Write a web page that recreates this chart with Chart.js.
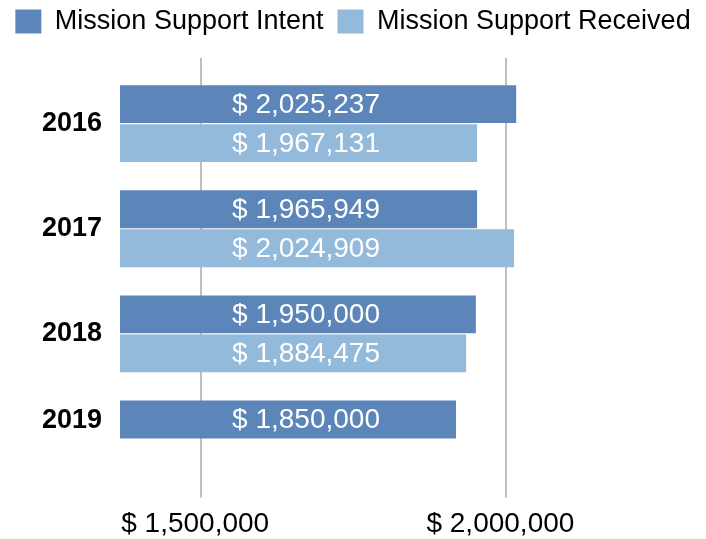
<!DOCTYPE html>
<html>
<head>
<meta charset="utf-8">
<style>
  html, body { margin: 0; padding: 0; background: #fff; }
  #chart { display: block; }
</style>
<script src="https://cdn.jsdelivr.net/npm/chart.js@4"></script>
</head>
<body>
<canvas id="chart" width="706" height="539"></canvas>
<script>
// Datos
const years = ["2016", "2017", "2018", "2019"];
const seriesNames = ["Mission Support Intent", "Mission Support Received"];
// largo de las barras, estimado contra el eje
const intentValues = [2016000, 1952000, 1950000, 1917500];
const receivedValues = [1952000, 2012500, 1934000, null];
// rótulos tal como aparecen sobre las barras
const intentLabels = ["$ 2,025,237", "$ 1,965,949", "$ 1,950,000", "$ 1,850,000"];
const receivedLabels = ["$ 1,967,131", "$ 2,024,909", "$ 1,884,475", null];
const tickValues = [1500000, 2000000];
const tickLabels = ["$ 1,500,000", "$ 2,000,000"];
const xMin = 1367000;
const xMax = 2327000;

const font = "'Liberation Sans', Arial, Helvetica, sans-serif";
const gridColor = "#bfbfbf";
const barLabels = [intentLabels, receivedLabels];

const setTicks = scale => { scale.ticks = tickValues.map(v => ({ value: v })); };

// rótulos blancos dentro de las barras
const barLabelPlugin = {
  id: "barLabels",
  afterDatasetsDraw(chart) {
    const ctx = chart.ctx;
    const x = chart.chartArea.left + 186;
    ctx.save();
    ctx.font = "28px " + font;
    ctx.fillStyle = "#ffffff";
    ctx.textAlign = "center";
    ctx.textBaseline = "middle";
    chart.data.datasets.forEach((ds, i) => {
      chart.getDatasetMeta(i).data.forEach((bar, j) => {
        const txt = barLabels[i][j];
        if (txt) ctx.fillText(txt, x, bar.y + 1);
      });
    });
    ctx.restore();
  }
};

new Chart(document.getElementById("chart"), {
  type: "bar",
  data: {
    labels: years,
    datasets: [
      {
        label: seriesNames[0],
        data: intentValues,
        backgroundColor: "#5c86b9",
        categoryPercentage: 0.742,
        barPercentage: 0.97
      },
      {
        label: seriesNames[1],
        data: receivedValues,
        backgroundColor: "#93b9db",
        categoryPercentage: 0.742,
        barPercentage: 0.97
      }
    ]
  },
  options: {
    responsive: false,
    animation: false,
    indexAxis: "y",
    // el padding de la leyenda y de los ticks se compensa en los bordes
    layout: { padding: { top: -6, left: 0, right: 0, bottom: -12 } },
    plugins: {
      tooltip: { enabled: false },
      legend: {
        position: "top",
        labels: {
          boxWidth: 26,
          boxHeight: 24,
          padding: 14,
          color: "#000",
          font: { family: font, size: 27 }
        }
      }
    },
    scales: {
      x: {
        type: "linear",
        position: "bottom",
        min: xMin,
        max: xMax,
        afterBuildTicks: setTicks,
        border: { display: false },
        grid: { color: gridColor, lineWidth: 2, drawTicks: true, tickLength: 6 },
        ticks: {
          color: "#000",
          padding: 12,
          labelOffset: -6,
          maxRotation: 0,
          font: { family: font, size: 28, lineHeight: 1.05 },
          callback: (v) => tickLabels[tickValues.indexOf(v)]
        }
      },
      // eje superior sólo para prolongar las líneas de la grilla hacia arriba
      x2: {
        type: "linear",
        axis: "x",
        position: "top",
        min: xMin,
        max: xMax,
        afterBuildTicks: setTicks,
        afterFit: scale => { scale.height = 26; },
        border: { display: false },
        grid: { color: gridColor, lineWidth: 2, drawOnChartArea: false, drawTicks: true, tickLength: 13 },
        ticks: { display: false }
      },
      y: {
        afterFit: scale => { scale.width = 120; },
        border: { display: false },
        grid: { display: false, drawTicks: false },
        ticks: {
          color: "#000",
          padding: 18,
          font: { family: font, size: 27, weight: "bold", lineHeight: 1.35 },
          // 2019 sólo tiene una barra: el rótulo sube para quedar junto a ella
          callback: (v, i) => i === years.length - 1 ? [years[i], ""] : years[i]
        }
      }
    }
  },
  plugins: [barLabelPlugin]
});
</script>
</body>
</html>
